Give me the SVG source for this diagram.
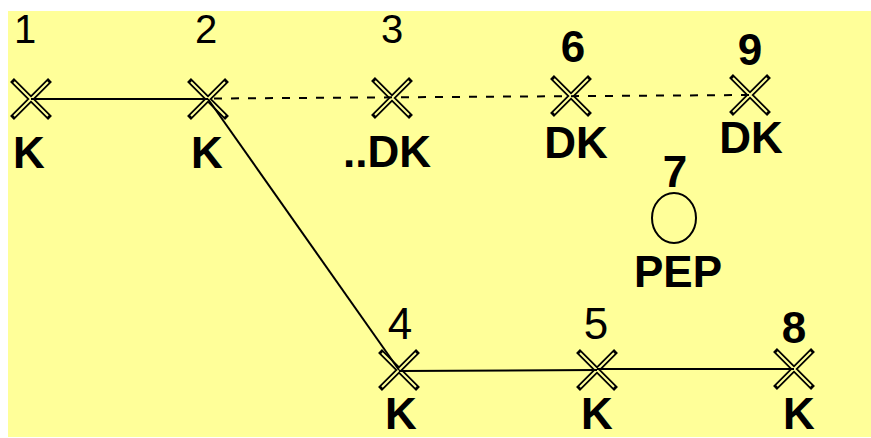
<svg xmlns="http://www.w3.org/2000/svg" width="871" height="438" viewBox="0 0 871 438">
<defs>
<style>
.bg{fill:#ffff99}
.xo{stroke:#000;stroke-width:5.5;stroke-linecap:butt;fill:none}
.xi{stroke:#ffff99;stroke-width:2;stroke-linecap:butt;fill:none}
.num{font-family:"Liberation Sans",Arial,sans-serif;font-size:40px;fill:#000;text-anchor:middle}
.numb{font-family:"Liberation Sans",Arial,sans-serif;font-size:44px;font-weight:bold;fill:#000;text-anchor:middle}
.lbl{font-family:"Liberation Sans",Arial,sans-serif;font-size:44px;font-weight:bold;fill:#000;text-anchor:middle}
.solid{stroke:#000;stroke-width:2;fill:none}
.dash{stroke:#000;stroke-width:2;fill:none;stroke-dasharray:8 9}
</style>
<g id="cross">
<path class="xo" d="M-19,-19 L19,19 M19,-19 L-19,19"/>
<path class="xi" d="M-17,-17 L17,17 M17,-17 L-17,17"/>
</g>
</defs>
<rect x="0" y="0" width="871" height="438" fill="#ffffff"/>
<rect class="bg" x="8" y="11" width="863" height="426"/>

<g id="n1">
<use href="#cross" x="31" y="99"/>
<text class="num" x="25" y="43">1</text>
<text class="lbl" x="29" y="168">K</text>
</g>
<g id="n2">
<use href="#cross" x="208" y="99"/>
<text class="num" x="206" y="43">2</text>
<text class="lbl" x="207" y="168">K</text>
</g>
<g id="n3">
<use href="#cross" x="392" y="98"/>
<text class="num" x="392" y="43">3</text>
<text class="lbl" x="387" y="167">..DK</text>
</g>
<g id="n6">
<use href="#cross" x="571" y="96"/>
<text class="numb" x="573" y="62">6</text>
<text class="lbl" x="576" y="158">DK</text>
</g>
<g id="n9">
<use href="#cross" x="750" y="95"/>
<text class="numb" x="750" y="65">9</text>
<text class="lbl" x="751" y="153">DK</text>
</g>
<g id="n7">
<ellipse cx="674" cy="218" rx="22" ry="25" fill="none" stroke="#000" stroke-width="2"/>
<text class="numb" x="675" y="187">7</text>
<text class="lbl" x="678" y="287">PEP</text>
</g>
<g id="n4">
<use href="#cross" x="399" y="370"/>
<text class="num" x="400" y="339" style="font-size:44px">4</text>
<text class="lbl" x="401" y="429">K</text>
</g>
<g id="n5">
<use href="#cross" x="597" y="370"/>
<text class="num" x="596" y="339" style="font-size:44px">5</text>
<text class="lbl" x="597" y="429">K</text>
</g>
<g id="n8">
<use href="#cross" x="794" y="369"/>
<text class="numb" x="794" y="343">8</text>
<text class="lbl" x="799" y="429">K</text>
</g>

<g id="connectors">
<line class="solid" x1="31" y1="99" x2="208" y2="99"/>
<line class="dash" x1="214" y1="98.5" x2="750" y2="95"/>
<line class="solid" x1="208" y1="99" x2="399" y2="370"/>
<line class="solid" x1="399" y1="371" x2="597" y2="370"/>
<line class="solid" x1="597" y1="369" x2="794" y2="369"/>
</g>
</svg>
